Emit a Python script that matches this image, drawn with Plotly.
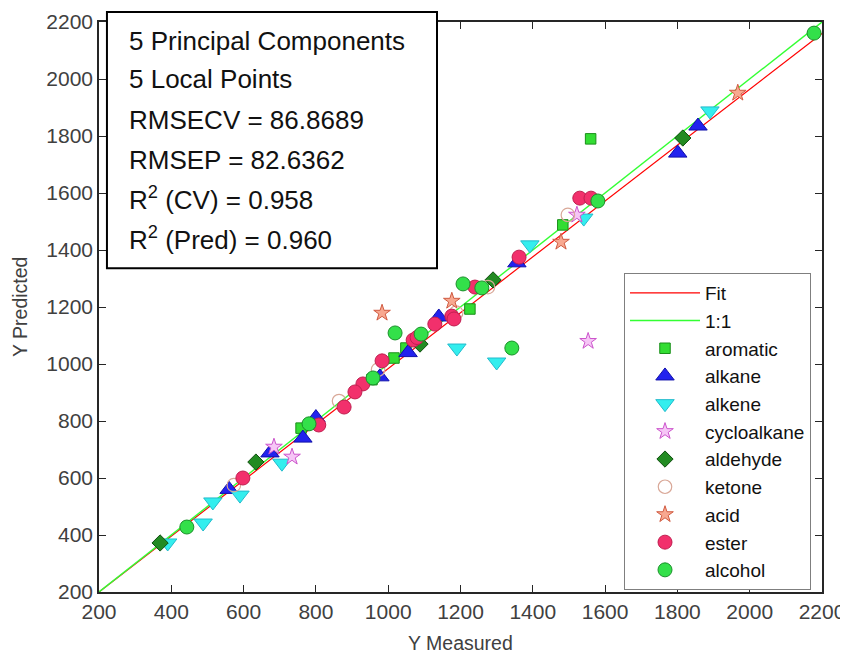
import plotly.graph_objects as go

# ---- data ----
aromatic_x = [1560, 1226, 1483, 1016, 1049, 759, 955]
aromatic_y = [1790, 1193, 1488, 1021, 1056, 775, 945]

alkane_x = [1857, 1801, 1356, 1140, 1055, 977, 800, 764, 673, 560]
alkane_y = [1835, 1740, 1355, 1165, 1040, 955, 812, 740, 688, 560]

alkene_x = [1890, 1541, 1392, 1190, 1300, 706, 590, 515, 488, 390]
alkene_y = [1888, 1512, 1418, 1056, 1007, 652, 540, 516, 442, 372]

cyclo_x = [1553, 684, 734, 1522]
cyclo_y = [1080, 709, 674, 1523]

aldehyde_x = [1815, 369, 634, 1290, 1088]
aldehyde_y = [1793, 372, 656, 1295, 1070]

ketone_x = [1497, 1276, 1188, 972, 864, 573]
ketone_y = [1523, 1270, 1180, 980, 870, 575]

acid_x = [1967, 1478, 983, 1176]
acid_y = [1951, 1428, 1179, 1221]

ester_x = [1530, 1561, 1362, 1240, 1176, 1182, 1129, 1069, 1080, 983, 930, 908, 878, 808, 598]
ester_y = [1582, 1582, 1375, 1270, 1168, 1158, 1140, 1084, 1093, 1011, 930, 902, 849, 786, 600]

alcohol_x = [2178, 1580, 1207, 1259, 1019, 1091, 1342, 958, 781, 443]
alcohol_y = [2161, 1572, 1281, 1267, 1109, 1105, 1056, 951, 790, 428]

fit_slope = 0.98
fit_intercept = 4.0
line_x = [200, 2200]

tick_vals = [200, 400, 600, 800, 1000, 1200, 1400, 1600, 1800, 2000, 2200]

stats_lines = [
    "5 Principal Components",
    "5 Local Points",
    "RMSECV = 86.8689",
    "RMSEP = 82.6362",
    "R<sup>2</sup> (CV) = 0.958",
    "R<sup>2</sup> (Pred) = 0.960",
]

FONT = "Liberation Sans, Arial, Helvetica, sans-serif"
GRAY = "#404040"

fig = go.Figure()

fig.add_trace(go.Scatter(x=line_x, y=[fit_slope * v + fit_intercept for v in line_x],
                         mode="lines", name="Fit", legendgroup="g0",
                         line=dict(color="#ff0000", width=1.2)))
fig.add_trace(go.Scatter(x=line_x, y=line_x, mode="lines", name="1:1", legendgroup="g1",
                         line=dict(color="#33ff33", width=1.4)))

series = [
    ("aromatic", aromatic_x, aromatic_y, "square", 10.5, "#33dd33", "#1a8f1a", 1),
    ("alkane", alkane_x, alkane_y, "triangle-up", 16, "#2222ee", "#1010aa", 1),
    ("alkene", alkene_x, alkene_y, "triangle-down", 16, "#33eeee", "#22bbcc", 1),
    ("cycloalkane", cyclo_x, cyclo_y, "star", 12.5, "#f6c6f6", "#cc55cc", 1),
    ("aldehyde", aldehyde_x, aldehyde_y, "diamond", 12.5, "#228b22", "#0f4f0f", 1),
    ("ketone", ketone_x, ketone_y, "circle-open", 13.5, "#d9a898", "#d9a898", 1.2),
    ("acid", acid_x, acid_y, "star", 12.5, "#f8a890", "#d05a40", 1),
    ("ester", ester_x, ester_y, "circle", 14, "#f2306c", "#c01f50", 1),
    ("alcohol", alcohol_x, alcohol_y, "circle", 14, "#33e04a", "#1a902a", 1),
]
for i, (name, xs, ys, sym, size, fill, edge, lw) in enumerate(series):
    fig.add_trace(go.Scatter(
        x=xs, y=ys, mode="markers", name=name, legendgroup=f"s{i}",
        marker=dict(symbol=sym, size=size, color=fill,
                    line=dict(color=edge, width=lw))))

axis_common = dict(
    range=[200, 2200], tickvals=tick_vals, ticks="inside", ticklen=7,
    tickwidth=1.3, tickcolor="#262626", showline=True, linecolor="#262626",
    linewidth=1.5, mirror="ticks", showgrid=False, zeroline=False,
    tickfont=dict(family=FONT, size=21, color=GRAY), automargin=False,
)
fig.update_xaxes(**axis_common)
fig.update_yaxes(**axis_common)

# axis titles
fig.add_annotation(xref="paper", yref="paper", x=0.5, y=(592 - 643) / 570,
                   xanchor="center", yanchor="middle", text="Y Measured", showarrow=False,
                   font=dict(family=FONT, size=19.5, color=GRAY))
fig.add_annotation(xref="paper", yref="paper", x=(20 - 99) / 723, y=0.5,
                   xanchor="center", yanchor="middle", text="Y Predicted", showarrow=False,
                   textangle=-90, font=dict(family=FONT, size=19.5, color=GRAY))

# stats box
fig.add_shape(type="rect", xref="paper", yref="paper",
              x0=0.011, x1=0.4675, y0=0.568, y1=1.0175,
              line=dict(color="#000000", width=2), fillcolor="white", layer="above")
line_px = [41, 79, 120, 160, 199, 239]
for txt, py in zip(stats_lines, line_px):
    fig.add_annotation(xref="paper", yref="paper", x=(127 - 99) / 723, y=(592 - py) / 570,
                       xanchor="left", yanchor="middle", text=txt, showarrow=False,
                       font=dict(family=FONT, size=26, color="#111111"))

# page body has an 8px margin, so the figure is drawn 8px in from the window edge
fig.update_layout(
    width=840, height=647,
    margin=dict(l=91, r=26, t=14, b=63),
    plot_bgcolor="white", paper_bgcolor="white",
    font=dict(family=FONT),
    legend=dict(x=(624 - 99) / 723, y=(592 - 273) / 570, xanchor="left", yanchor="top",
                bgcolor="white", bordercolor="#7f7f7f", borderwidth=1,
                font=dict(family=FONT, size=19, color="#111111"),
                tracegroupgap=0, itemwidth=70),
    showlegend=True,
)

fig.write_html("out.html")
